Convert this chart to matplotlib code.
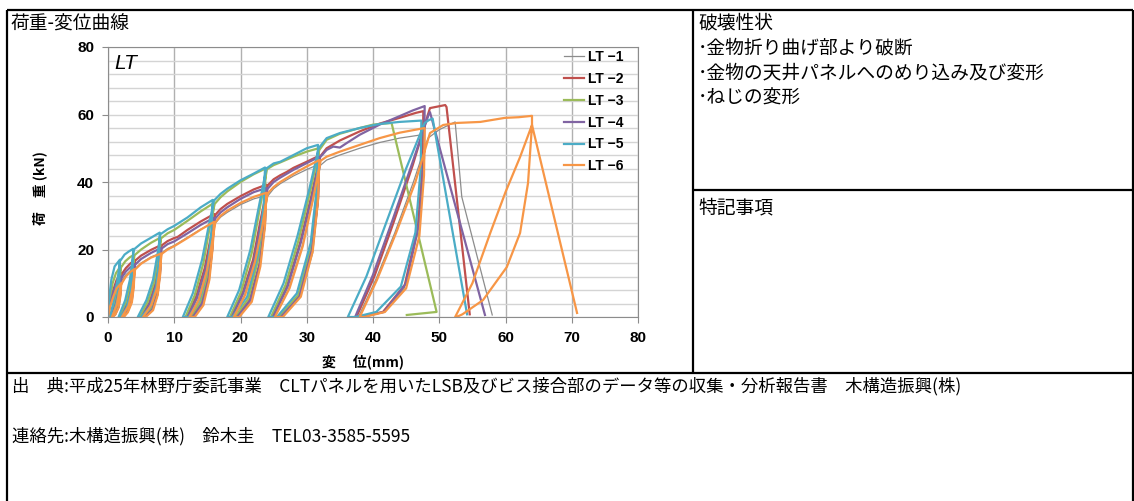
import matplotlib
matplotlib.use('Agg')
import matplotlib.pyplot as plt

plt.rcParams['font.family'] = ['Noto Sans CJK JP', 'DejaVu Sans']

# 荷重-変位データ (変位 mm, 荷重 kN)
lt1_x = [0, 0.3, 0.8, 1.3, 2.0, 1.9, 1.6, 1.1, 0.6, 0.5, 1.2, 1.7, 2.0,
         2.7, 3.4, 4.0, 3.9, 3.6, 3.0, 2.3, 2.0, 3.0, 3.6, 3.9, 4.1,
         5.0, 6.5, 8.0, 7.9, 7.5, 6.7, 5.6, 5.2, 6.4, 7.3, 7.8, 8.1,
         9.0, 10.0, 12.0, 14.0, 16.0, 15.8, 15.3, 14.3, 13.0, 12.2, 13.6, 14.8, 15.6, 16.2,
         17.0, 18.0, 20.0, 22.0, 23.9, 23.7, 22.9, 21.6, 19.7, 18.9, 20.6, 22.1, 23.2, 24.1,
         25.0, 26.0, 28.0, 30.0, 31.9, 31.7, 30.9, 29.0, 26.3, 25.1, 27.3, 29.3, 30.8, 32.1,
         33.0, 35.0, 38.0, 41.0, 44.0, 47.4, 47.3, 46.6, 44.7, 41.7, 38.5, 37.8, 40.4, 43.3, 46.1, 48.3,
         50.0, 52.4, 53.4, 58.0]
lt1_y = [0, 3, 6.5, 9, 11, 7, 3, 0.8, 0, 0, 3.5, 8, 10.5,
         12.5, 13.8, 14.5, 9.5, 4.5, 1.5, 0, 0, 3.5, 8, 12, 14.4,
         16, 17.8, 19, 13, 6.5, 2, 0, 0, 3.5, 8.5, 14, 19,
         20.3, 21.2, 23.6, 26, 28, 20, 11, 3.5, 0, 0, 5, 13.5, 21.5, 27.8,
         29.6, 31, 33.3, 35, 36, 26.5, 15, 4.5, 0, 0, 6.5, 16, 26.5, 35.8,
         38, 39.5, 41.8, 43.7, 45.3, 33.5, 19, 6, 0, 0, 8.5, 21, 33.5, 45,
         46.5, 48, 50, 51.7, 53, 54, 40, 24, 8.5, 1.5, 0, 0, 11, 25, 40, 53,
         55.5, 57.8, 35.6, 0.6]

lt2_x = [0, 0.3, 0.8, 1.3, 2.0, 1.9, 1.6, 1.1, 0.6, 0.5, 1.2, 1.7, 2.0,
         2.7, 3.4, 4.0, 3.9, 3.6, 3.0, 2.2, 1.9, 2.9, 3.5, 3.9, 4.1,
         5.0, 6.5, 8.0, 7.9, 7.5, 6.6, 5.4, 5.0, 6.2, 7.1, 7.7, 8.1,
         9.0, 10.0, 10.5, 12.0, 14.0, 16.0, 15.8, 15.2, 14.1, 12.7, 11.9, 13.3, 14.6, 15.5, 16.2,
         17.0, 18.0, 20.0, 22.0, 23.9, 23.7, 22.9, 21.4, 19.4, 18.6, 20.3, 21.9, 23.0, 24.1,
         25.0, 26.0, 27.0, 28.0, 30.0, 31.9, 31.7, 30.8, 28.8, 26.0, 24.8, 27.0, 29.0, 30.6, 32.0,
         33.0, 35.0, 38.0, 41.0, 44.0, 46.5, 47.6, 47.5, 46.8, 44.8, 41.5, 38.2, 37.5, 40.2, 43.1, 46.0, 48.3,
         48.6, 50.9, 51.1, 54.6]
lt2_y = [0, 4, 8, 11, 13, 8, 3.5, 1, 0, 0, 4.5, 9, 12.5,
         14.5, 15.9, 16.8, 11, 5.5, 2, 0, 0, 4, 9, 14, 16.7,
         18.2, 19.9, 21.3, 14.5, 7.5, 2.5, 0, 0, 4, 9.5, 16, 21.2,
         22.5, 23.4, 23.7, 25.8, 28.3, 30.5, 22, 12, 4, 0, 0, 6, 14.5, 23.5, 30.3,
         32, 33.5, 35.8, 37.8, 39.2, 28.5, 16, 5, 0, 0, 7, 17, 28.5, 39,
         40.8, 42, 43, 44.2, 46, 47.8, 35, 20, 6, 0, 0, 9, 22, 35, 47.5,
         50, 52.3, 55, 57.3, 59, 60.5, 61, 46, 27, 9.5, 1.5, 0, 0, 12, 28, 45, 60,
         61.9, 62.8, 62.2, 0.8]

lt3_x = [0, 0.3, 0.7, 1.2, 1.9, 1.8, 1.5, 1.0, 0.5, 0.4, 1.1, 1.6, 1.9,
         2.6, 3.3, 3.9, 3.8, 3.5, 2.9, 2.1, 1.8, 2.8, 3.4, 3.8, 4.0,
         5.0, 6.5, 7.9, 7.8, 7.4, 6.5, 5.2, 4.8, 6.0, 7.0, 7.6, 8.0,
         9.0, 10.0, 12.0, 14.0, 15.9, 15.7, 15.1, 14.0, 12.5, 11.7, 13.1, 14.4, 15.3, 16.1,
         17.0, 18.0, 20.0, 22.0, 23.8, 23.6, 22.8, 21.2, 19.2, 18.4, 20.1, 21.7, 22.9, 24.0,
         25.0, 26.0, 28.0, 30.0, 31.8, 31.6, 30.7, 28.7, 25.8, 24.6, 26.8, 28.8, 30.5, 31.9,
         33.0, 35.0, 38.0, 40.0, 42.8, 49.6, 45.1]
lt3_y = [0, 5, 10, 13, 15, 9, 4, 1, 0, 0, 5, 10, 14.5,
         16.5, 17.7, 18.4, 12, 6, 2, 0, 0, 4.5, 10, 15.5, 18.3,
         20, 22, 23.5, 16, 8.5, 2.5, 0, 0, 4.5, 10.5, 18, 23.3,
         24.8, 25.8, 28.5, 31.3, 33.7, 24, 13, 4.5, 0, 0, 6.5, 16, 26, 33.5,
         35.5, 37.2, 40, 42.3, 44, 32, 18, 5.5, 0, 0, 7.5, 19, 32, 43.8,
         45, 45.8, 47.5, 49, 50, 37, 21, 6.5, 0, 0, 9.5, 23, 37, 49.5,
         52.5, 54.3, 56, 57, 57.5, 1.5, 0.6]

lt4_x = [0, 0.3, 0.8, 1.3, 2.0, 1.9, 1.6, 1.1, 0.6, 0.5, 1.2, 1.7, 2.0,
         2.7, 3.4, 4.0, 3.9, 3.6, 3.0, 2.3, 2.0, 3.0, 3.6, 3.9, 4.1,
         5.0, 6.5, 8.0, 7.9, 7.5, 6.7, 5.5, 5.1, 6.3, 7.2, 7.7, 8.1,
         9.0, 10.0, 12.0, 14.0, 16.0, 15.8, 15.2, 14.2, 12.8, 12.0, 13.4, 14.7, 15.6, 16.2,
         17.0, 18.0, 20.0, 22.0, 23.9, 23.7, 22.9, 21.5, 19.5, 18.7, 20.4, 22.0, 23.1, 24.1,
         25.0, 26.0, 28.0, 30.0, 31.9, 31.7, 30.8, 28.9, 26.1, 24.9, 27.1, 29.1, 30.7, 32.0,
         33.0, 34.0, 35.0, 36.0, 38.0, 41.0, 44.0, 46.0, 47.8, 47.7, 47.0, 45.0, 41.7, 38.0, 37.3, 40.0, 43.0, 46.0, 48.4,
         48.6, 56.9]
lt4_y = [0, 3.5, 7.5, 10, 12, 7.5, 3, 0.8, 0, 0, 4, 8.5, 11.5,
         13.5, 14.8, 15.6, 10, 5, 1.8, 0, 0, 4, 8.5, 13, 15.5,
         17.2, 19, 20.4, 14, 7, 2.2, 0, 0, 4, 9, 15, 20.3,
         21.6, 22.4, 24.8, 27.3, 29.4, 21, 11.5, 4, 0, 0, 5.5, 14, 22.5, 29.2,
         31, 32.5, 35, 37, 38.2, 28, 15.5, 5, 0, 0, 7, 16.5, 28, 38,
         40, 41.3, 43.6, 45.6, 47.5, 35, 20, 6, 0, 0, 9, 22, 35, 47.3,
         49.5, 50.5, 50.2, 51.5, 54, 57, 59.5, 61.2, 62.5, 47, 28, 10, 1.5, 0, 0, 12.5, 29, 46, 60,
         60.7, 0.6]

lt5_x = [0, 0.2, 0.5, 1.0, 1.8, 1.7, 1.4, 0.9, 0.4, 0.3, 1.0, 1.5, 1.8,
         2.5, 3.2, 3.8, 3.7, 3.4, 2.8, 1.9, 1.6, 2.6, 3.3, 3.7, 3.9,
         5.0, 6.5, 7.8, 7.7, 7.3, 6.4, 5.0, 4.5, 5.8, 6.8, 7.5, 7.9,
         9.0, 10.0, 12.0, 14.0, 15.8, 15.6, 15.0, 13.8, 12.2, 11.3, 12.8, 14.2, 15.2, 16.0,
         17.0, 18.0, 20.0, 22.0, 23.7, 23.5, 22.7, 21.0, 18.8, 18.0, 19.8, 21.5, 22.8, 23.9,
         25.0, 26.0, 28.0, 30.0, 31.7, 31.5, 30.6, 28.5, 25.5, 24.2, 26.5, 28.6, 30.4, 31.8,
         33.0, 35.0, 38.0, 41.0, 44.0, 47.3, 47.2, 46.4, 44.2, 40.5, 37.3, 36.2, 39.0, 42.0, 45.0, 47.8,
         48.4, 49.0, 54.2]
lt5_y = [0, 6, 11, 15, 17, 10, 5, 1.5, 0, 0, 6, 12, 16.5,
         18.5, 19.5, 20.2, 13, 7, 2.5, 0, 0, 5, 11, 17, 20,
         21.8, 23.5, 25, 17, 9, 3, 0, 0, 5, 11, 19, 24.5,
         26, 27, 29.5, 32.5, 34.7, 25, 14, 5, 0, 0, 7, 17, 27, 34.5,
         36.5, 38, 40.5, 42.5, 44.3, 33, 19, 6, 0, 0, 8, 20, 33, 44,
         45.5, 46, 48, 50, 51, 38, 22, 7, 0, 0, 10, 24, 38, 50,
         53, 54.5, 56, 57.2, 57.8, 58.2, 44, 25, 9, 1.5, 0, 0, 12, 28, 44, 57.5,
         58.3, 58.8, 0.8]

lt6_x = [0, 0.3, 0.8, 1.3, 2.0, 1.9, 1.6, 1.1, 0.7, 0.6, 1.3, 1.7, 2.0,
         2.7, 3.4, 4.0, 3.9, 3.6, 3.0, 2.4, 2.1, 3.1, 3.6, 3.9, 4.1,
         5.0, 6.5, 8.0, 7.9, 7.5, 6.8, 5.7, 5.3, 6.5, 7.4, 7.8, 8.1,
         9.0, 10.0, 12.0, 14.0, 16.0, 15.8, 15.3, 14.4, 13.1, 12.3, 13.7, 14.9, 15.7, 16.2,
         17.0, 18.0, 20.0, 22.0, 23.9, 23.7, 23.0, 21.7, 19.8, 19.0, 20.7, 22.2, 23.3, 24.1,
         25.0, 26.0, 28.0, 30.0, 31.9, 31.7, 30.9, 29.1, 26.4, 25.2, 27.4, 29.4, 30.9, 32.1,
         33.0, 35.0, 38.0, 41.0, 44.0, 47.8, 47.7, 47.0, 45.0, 41.8, 38.7, 38.0, 40.6, 43.5, 46.4, 48.6,
         50.6, 52.7, 56.2, 59.9, 62.0, 64.0, 64.0, 63.4, 62.2, 60.2, 56.6, 53.5, 52.6,
         52.4, 55.0, 57.7, 60.0, 62.2, 64.0, 70.8]
lt6_y = [0, 3, 6, 8.5, 10, 6.5, 2.8, 0.7, 0, 0, 3.5, 7.5, 9.7,
         12, 13.4, 14.2, 9, 4.3, 1.4, 0, 0, 3.3, 7.5, 11.5, 14.1,
         15.8, 17.6, 18.8, 13, 6.5, 2, 0, 0, 3.5, 8.5, 14, 18.7,
         20, 21, 23.4, 25.9, 28.2, 20.5, 11, 3.5, 0, 0, 5, 13.5, 22, 28,
         30, 31.5, 33.8, 35.6, 36.8, 27, 15, 4.5, 0, 0, 6.5, 16.5, 27, 36.6,
         38.5, 40, 42.4, 44.6, 46.5, 34.5, 19.5, 6, 0, 0, 8.5, 21, 34.5, 46.3,
         47.5, 49, 51, 53, 54.6, 56, 42, 24, 8.5, 1.5, 0, 0, 11, 25, 40, 54.5,
         56.9, 57.5, 57.8, 59, 59.2, 59.6, 56.9, 39.7, 24.9, 14.8, 5, 0.8, 0,
         0, 10, 24.9, 37, 47.4, 56.9, 1.2]

labels = ['LT −1', 'LT −2', 'LT −3', 'LT −4', 'LT −5', 'LT −6']
colors = ['#8c8c8c', '#c0504d', '#9bbb59', '#8064a2', '#4bacc6', '#f79646']
widths = [0.9, 1.6, 1.6, 1.6, 1.6, 1.6]
series = [(lt1_x, lt1_y), (lt2_x, lt2_y), (lt3_x, lt3_y),
          (lt4_x, lt4_y), (lt5_x, lt5_y), (lt6_x, lt6_y)]

W, H = 1134, 501
fig = plt.figure(figsize=(W / 100, H / 100), dpi=100)

# 枠線と文字 (ピクセル座標)
frame = fig.add_axes([0, 0, 1, 1])
frame.set_xlim(0, W)
frame.set_ylim(H, 0)
frame.axis('off')
lk = dict(color='black', lw=1.6, solid_capstyle='butt')
frame.plot([7, 1133], [10, 10], **lk)
frame.plot([7, 7], [10, 501], **lk)
frame.plot([1133, 1133], [10, 501], **lk)
frame.plot([693, 693], [10, 373], **lk)
frame.plot([7, 1133], [373, 373], **lk)
frame.plot([693, 1133], [190, 190], **lk)

frame.text(11, 24, '荷重-変位曲線', fontsize=13.5, va='center', ha='left')
frame.text(698, 23, '破壊性状', fontsize=13.5, va='center', ha='left')
frame.text(698, 48, '･金物折り曲げ部より破断', fontsize=13.5, va='center', ha='left')
frame.text(698, 73, '･金物の天井パネルへのめり込み及び変形', fontsize=13.5, va='center', ha='left')
frame.text(698, 98, '･ねじの変形', fontsize=13.5, va='center', ha='left')
frame.text(698, 208, '特記事項', fontsize=13.5, va='center', ha='left')
frame.text(12, 386, '出　典:平成25年林野庁委託事業　CLTパネルを用いたLSB及びビス接合部のデータ等の収集・分析報告書　木構造振興(株)',
           fontsize=12.5, va='center', ha='left')
frame.text(12, 436, '連絡先:木構造振興(株)　鈴木圭　TEL03-3585-5595', fontsize=12.5, va='center', ha='left')

frame.text(40, 188, '荷　重 (kN)', fontsize=10, fontweight='bold', rotation=90, va='center', ha='center')
frame.text(322, 362, '変　 位(mm)', fontsize=10, fontweight='bold', va='center', ha='left')

# グラフ
ax = fig.add_axes([108 / W, 1 - 317 / H, 530 / W, 270 / H])
for (x, y), lab, c, lw in zip(series, labels, colors, widths):
    ax.plot(x, y, color=c, lw=lw, label=lab)

ax.set_xlim(0, 80)
ax.set_ylim(0, 80)
ax.set_xticks(range(0, 81, 10))
ax.set_yticks(range(0, 81, 20))
ax.set_yticks(range(0, 81, 4), minor=True)
ax.grid(axis='x', color='#b0b0b0', lw=1)
ax.grid(axis='y', which='both', color='#d4d4d4', lw=1)
ax.set_axisbelow(True)
for s in ax.spines.values():
    s.set_color('#8c8c8c')
ax.tick_params(axis='both', which='major', length=4, color='#8c8c8c', pad=6)
ax.tick_params(axis='y', which='minor', length=0)
for t in ax.get_xticklabels() + ax.get_yticklabels():
    t.set_fontfamily('Liberation Sans')
    t.set_fontweight('bold')
    t.set_fontsize(11)

ax.text(1.0, 75, 'LT', fontsize=15, style='italic', family='Liberation Sans', va='center')

ax.legend(loc='upper left', bbox_to_anchor=((556 - 108) / 530, 1 + 5 / 270),
          frameon=False, handlelength=1.4, handletextpad=0.3, labelspacing=0.56,
          borderaxespad=0.2, prop={'family': 'Liberation Sans', 'weight': 'bold', 'size': 10})

fig.savefig('out.png', dpi=100)
